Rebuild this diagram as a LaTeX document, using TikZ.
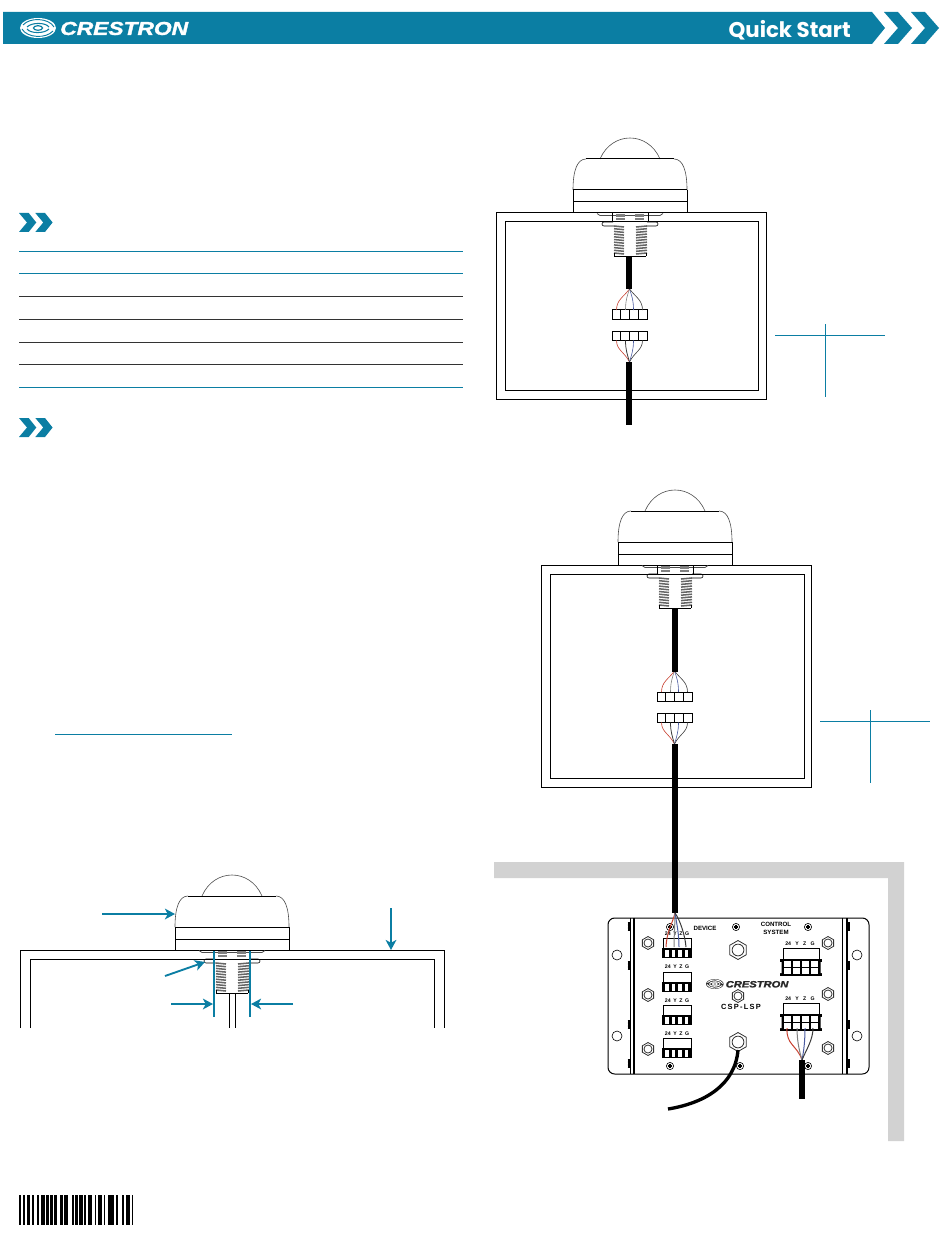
\documentclass[tikz,border=0pt]{standalone}
\usepackage{fontspec}
\setmainfont{Liberation Sans}
\newfontfamily\qsfont{Poppins}
\newfontfamily\logofont[FakeBold=1.6]{Liberation Sans}
\usepackage{tikz}
\usetikzlibrary{arrows.meta}
\definecolor{crestblue}{HTML}{0B7EA3}
\definecolor{wirered}{HTML}{C8402F}
\definecolor{wireblue}{HTML}{4A5AA0}
\definecolor{wiregray}{HTML}{808080}
\definecolor{wiredark}{HTML}{3A3A3A}
\definecolor{wallgray}{HTML}{D2D2D2}
\tikzset{
  px/.style={line width=0.75pt},
  thinpx/.style={line width=0.45pt},
  cable/.style={line width=4.2pt},
  tealline/.style={crestblue,line width=0.65pt},
  tealarrow/.style={crestblue,line width=1.4pt,-{Stealth[length=7.5pt,width=8pt,inset=2pt]}},
  rowline/.style={line width=0.6pt,black!80},
  tinylabel/.style={font=\fontsize{3.9}{4}\selectfont\bfseries,inner sep=0pt},
  % dome, body and threads, origin on top of the panel
  pics/sensor/.style={code={
    \draw[thinpx,black!70] (-30,-54) .. controls (-24,-68) and (-12,-75) .. (0,-75)
       .. controls (12,-75) and (24,-68) .. (30,-54);
    \draw[thinpx,black!70] (-57,-23) .. controls (-57,-42) and (-53,-54) .. (-44,-54);
    \draw[thinpx,black!70] (57,-23) .. controls (57,-42) and (53,-54) .. (44,-54);
    \draw[px] (-44,-54) -- (44,-54);
    \draw[px] (-57,-23) -- (57,-23);
    \draw[px] (-57,-11) -- (57,-11);
    \draw[px] (-57,-23) -- (-57,0);
    \draw[px] (57,-23) -- (57,0);
    \draw[line width=0.6pt,black!70] (-33,0.5) -- (-30,2.5) -- (30,2.5) -- (33,0.5);
    \draw[thinpx,rounded corners=1.5pt] (-16,13) -- (-28,13) -- (-28,9) -- (-17,9);
    \draw[thinpx,rounded corners=1.5pt] (16,13) -- (28,13) -- (28,9) -- (17,9);
    \draw[thinpx] (-18,0) -- (-18,9) (18,0) -- (18,9);
    \foreach \y in {2,3.6,5.2,6.8} {
      \draw[wiregray,line width=0.9pt] (-14,\y) -- (-5,\y);
      \draw[wiregray,line width=0.9pt] (5,\y) -- (14,\y);
    }
    \foreach \y in {13,15.7,...,41} {
      \draw[black!60,line width=1.15pt] (-16,\y) -- (-6,\y+1);
      \draw[black!60,line width=1.15pt] (6,\y+1) -- (17,\y);
    }
    \draw[thinpx] (-16,43) -- (16,43);
    \draw[thinpx] (-16,40) -- (-16,43) (16,40) -- (16,43);
  }},
  % two four way connectors with the wires, origin on top of the upper one
  pics/splice/.style={code={
    \foreach \s in {0,21} {
      \draw[px,fill=white] (-17.5,\s) rectangle (17.5,\s+9.5);
      \draw[px] (-8.75,\s) -- (-8.75,\s+9.5) (0,\s) -- (0,\s+9.5) (8.75,\s) -- (8.75,\s+9.5);
    }
    \draw[wirered,thinpx] (-13,0) .. controls (-13,-10) and (-6,-13) .. (0,-21);
    \draw[wiregray,thinpx] (-4,0) .. controls (-4,-10) and (-2,-15) .. (0,-21);
    \draw[wireblue,thinpx] (4,0) .. controls (4,-10) and (2,-15) .. (0,-21);
    \draw[wiredark,thinpx] (13,0) .. controls (13,-10) and (6,-13) .. (0,-21);
    \draw[wirered,thinpx] (-13,30.5) .. controls (-13,40) and (-5,42) .. (0,52);
    \draw[wiredark,line width=0.6pt] (-4,30.5) .. controls (-4,40) and (-2,45) .. (0,52);
    \draw[wireblue,thinpx] (4,30.5) .. controls (4,40) and (2,45) .. (0,52);
    \draw[wiredark,thinpx] (13,30.5) .. controls (13,40) and (5,42) .. (0,52);
  }},
  pics/chevrons/.style={code={
    \foreach \d in {0,16.3}
      \fill[crestblue,shift={(\d,0)}] (0,0) -- (9.7,0) -- (17.3,9.5) -- (9.7,19) -- (0,19) -- (8,9.5) -- cycle;
  }},
  pics/bigchevron/.style={code={
    \fill[crestblue] (0,0) -- (14,0) -- (28,16) -- (14,32) -- (0,32) -- (14,16) -- cycle;
  }},
  pics/hexnut/.style={code={
    \draw[line width=0.6pt,black!80,fill=white] (90:#1) -- (30:#1) -- (-30:#1) -- (-90:#1) -- (-150:#1) -- (150:#1) -- cycle;
    \draw[line width=0.6pt,black!80] (0,0) circle (0.62*#1);
  }},
  pics/crossscrew/.style={code={
    \draw[thinpx,fill=white] (0,0) circle (3.6);
    \draw[line width=0.8pt] (-2.4,0) -- (2.4,0) (0,-2.4) -- (0,2.4);
  }},
  pics/flangescrew/.style={code={
    \foreach \y in {-4,-2.5,...,4}
      \draw[line width=0.8pt] (-1.5,\y) -- (2,\y);
  }},
  % black plug of the left column
  pics/plugblock/.style={code={
    \draw[px,fill=white] (-14,0) rectangle (14,10);
    \fill (-15,10) rectangle (15,20);
    \foreach \x in {-10,-3.5,3,9.5}
      \fill[white] (\x-1.6,12) rectangle (\x+1.6,18.5);
  }},
  % socket of the right column
  pics/socketblock/.style={code={
    \draw[px,fill=white] (-18,0) rectangle (18,11);
    \fill (-21,11) rectangle (21,28);
    \fill[white] (-21,14) rectangle (-19.5,25) (19.5,14) rectangle (21,25);
    \foreach \x in {-13.5,-4.5,4.5,13.5}
      \fill[white] (\x-3.3,13) rectangle (\x+3.3,26);
    \foreach \x in {-13.5,-4.5,4.5,13.5}
      \draw[line width=0.5pt] (\x-3.3,19.5) -- (\x+3.3,19.5);
  }},
  pics/crestlogo/.style 2 args={code={
    \fill[#1] (18,0) ellipse (18 and 10);
    \draw[#2,line width=0.9pt] (18,0) ellipse (4.5 and 2.3);
    \draw[#2,line width=0.8pt] (7,1) .. controls (10,5.5) and (24,6) .. (29,1);
    \draw[#2,line width=0.8pt] (29,-1) .. controls (26,-5.5) and (12,-6) .. (7,-1);
    \draw[#2,line width=0.7pt] (2,1) .. controls (7,10) and (26,11) .. (33,3);
    \draw[#2,line width=0.7pt] (34,-1) .. controls (29,-10) and (10,-11) .. (3,-3);
    \node[#1,font=\logofont\fontsize{14}{14}\selectfont\bfseries\itshape,anchor=west,inner sep=0pt,xscale=1.22,transform shape] (logotext) at (40,0.5) {CRESTRON};
  }},
}
\begin{document}
\begin{tikzpicture}[x=0.75pt,y=-0.75pt]
  \useasboundingbox (0,0) rectangle (950,1237);
  % header bar
  \fill[crestblue] (3,12) -- (872,12) -- (885,28) -- (872,44) -- (3,44) -- cycle;
  \pic at (884,12) {bigchevron};
  \pic at (911,12) {bigchevron};
  \pic at (20,28) {crestlogo={white}{crestblue}};
  \node[white,font=\qsfont\fontsize{16}{16}\selectfont\bfseries,anchor=east,inner sep=0pt] (title) at (851,30) {Quick Start};
  % table rules
  \foreach \y in {213,418}
    \pic at (19,\y) {chevrons};
  \foreach \y in {251,273,387}
    \draw[tealline] (19,\y) -- (463,\y);
  \foreach \y in {296,319,342,364}
    \draw[rowline] (19,\y) -- (463,\y);
  \draw[tealline] (55,734) -- (232,734);
  % wall
  \fill[wallgray] (494,862) -- (904,862) -- (904,1141) -- (888,1141) -- (888,878) -- (494,878) -- cycle;
  % first panel
  \draw[px] (496,213) rectangle (766,399);
  \draw[px] (505,222) rectangle (758,390);
  \pic at (630,213) {sensor};
  \pic at (629.5,310) {splice};
  \coordinate (upperA) at (629,256);
  \coordinate (fanA) at (629,289);
  \coordinate (lowerA) at (629,362);
  \coordinate (endA) at (629,425);
  \draw[cable] (upperA) -- (fanA);
  \draw[cable] (lowerA) -- (endA);
  \draw[tealline] (775,335) -- (885,335);
  \draw[tealline] (825,324) -- (825,397);
  % second panel
  \draw[px] (541,565) rectangle (811,787);
  \draw[px] (550,574) rectangle (804,778);
  \pic at (675,565) {sensor};
  \pic at (674.5,692) {splice};
  \coordinate (upperB) at (675,608);
  \coordinate (fanB) at (675,672);
  \coordinate (lowerB) at (675,744);
  \coordinate (endB) at (675,913);
  \draw[cable] (upperB) -- (fanB);
  \draw[cable] (lowerB) -- (endB);
  \draw[tealline] (820,721) -- (930,721);
  \draw[tealline] (870,710) -- (870,783);
  % control box
  \draw[px,rounded corners=5pt] (608,918) rectangle (869,1074);
  \draw[px] (630,918) -- (630,1074);
  \draw[line width=1.1pt] (634,918) -- (634,1074);
  \draw[px] (842,918) -- (842,1074);
  \draw[line width=1.1pt] (847,918) -- (847,1074);
  \foreach \x/\y in {617/955,617/1036,857/955,857/1036}
    \draw[thinpx] (\x,\y) circle (5);
  \foreach \y in {927,966,1025,1064} {
    \pic at (629,\y) {flangescrew};
    \pic at (848,\y) {flangescrew};
  }
  \foreach \x/\y in {648/943,648/995,648/1049,828/943,828/994,828/1048}
    \pic at (\x,\y) {hexnut=6.5};
  \pic at (738,950) {hexnut=9.5};
  \pic at (738,996) {hexnut=6.5};
  \foreach \x/\y in {670/927,736/927,808/927,670/1066,740/1066,808/1066}
    \pic at (\x,\y) {crossscrew};
  % connectors
  \foreach \y in {938,972,1005,1038}
    \pic at (677,\y) {plugblock};
  \pic at (801,948) {socketblock};
  \pic at (801,1003) {socketblock};
  \node[tinylabel] (pinsA) at (677,934) {24\,\,\,Y\,\,\,Z\,\,\,G};
  \node[tinylabel] (pinsB) at (677,967) {24\,\,\,Y\,\,\,Z\,\,\,G};
  \node[tinylabel] (pinsC) at (677,1001) {24\,\,\,Y\,\,\,Z\,\,\,G};
  \node[tinylabel] (pinsD) at (677,1034) {24\,\,\,Y\,\,\,Z\,\,\,G};
  \node[tinylabel] (pinsE) at (800,944) {24\,\,\,\,\,Y\,\,\,\,\,Z\,\,\,\,\,G};
  \node[tinylabel] (pinsF) at (800,999) {24\,\,\,\,\,Y\,\,\,\,\,Z\,\,\,\,\,G};
  \node[tinylabel,font=\fontsize{4.6}{5}\selectfont\bfseries] (device) at (705,928) {DEVICE};
  \node[tinylabel,font=\fontsize{4.6}{6}\selectfont\bfseries,align=center] (ctrlsys) at (776,928) {CONTROL\\SYSTEM};
  \node[inner sep=0pt,font=\fontsize{5.6}{6}\selectfont\bfseries] (model) at (741,1007) {C\,S\,P\,-\,L\,S\,P};
  \pic[scale=0.49] at (706,984) {crestlogo={black!85}{white}};
  % wires from the first cable to the box
  \coordinate (wiretop) at (675,913);
  \draw[wirered,px] (wiretop) .. controls (672,925) and (667,930) .. (666,947);
  \draw[wiregray,px] (wiretop) .. controls (675,925) and (674,935) .. (674,947);
  \draw[wireblue,px] (wiretop) .. controls (677,925) and (679,935) .. (679,947);
  \draw[wiredark,px] (wiretop) .. controls (680,920) and (685,935) .. (686,947);
  % lower right connector wires
  \coordinate (wirebot) at (802,1060);
  \coordinate (cableC) at (802,1099);
  \draw[wirered,px] (787,1028) .. controls (786,1045) and (797,1045) .. (wirebot);
  \draw[wiregray,px] (797,1028) .. controls (797,1040) and (799,1050) .. (wirebot);
  \draw[wireblue,px] (805,1028) .. controls (805,1040) and (804,1050) .. (wirebot);
  \draw[wiredark,px] (813,1028) .. controls (813,1040) and (806,1050) .. (wirebot);
  \draw[cable] (wirebot) -- (cableC);
  % cable from the big gland
  \pic at (738,1042) {hexnut=9.5};
  \coordinate (glandC) at (738,1050);
  \coordinate (tailC) at (668,1109);
  \draw[line width=2.5pt] (glandC) .. controls (735,1085) and (705,1103) .. (tailC);
  % detail view
  \draw[px] (20,1028) -- (20,950) -- (444,950) -- (444,1028);
  \draw[px] (30,1028) -- (30,959) -- (434,959) -- (434,1028);
  \pic at (232,950) {sensor};
  \draw[px] (229,993) -- (229,1028);
  \draw[px] (235,993) -- (235,1028);
  \draw[crestblue,line width=1.1pt] (214,951) -- (214,1017);
  \draw[crestblue,line width=1.1pt] (250,951) -- (250,1017);
  \coordinate (domeS) at (102,914);
  \coordinate (domeE) at (175,914);
  \coordinate (wallS) at (391,908);
  \coordinate (wallE) at (391,950);
  \coordinate (gaskS) at (165,976);
  \coordinate (gaskE) at (205,962);
  \coordinate (holeS) at (171,1004);
  \coordinate (holeE) at (213,1004);
  \coordinate (holeT) at (293,1004);
  \coordinate (holeF) at (251,1004);
  \draw[tealarrow] (domeS) -- (domeE);
  \draw[tealarrow] (wallS) -- (wallE);
  \draw[tealarrow] (gaskS) -- (gaskE);
  \draw[tealarrow] (holeS) -- (holeE);
  \draw[tealarrow] (holeT) -- (holeF);
  % barcode
  \foreach \b/\e in {19/21,23.3/25,26.7/30,32.3/34,37/38.7,41/45,46/48.7,49.7/53.3,54.3/57.3,60/62.7,
      64.3/67.7,72.3/74.3,75.3/77.7,79/83.3,84.3/85.7,88.3/91.7,95/96.3,98.3/101.7,104/105.3,
      107.7/114.3,116/118.3,122.3/124,126/130,131.7/133.3}
    \fill (\b,1195) rectangle (\e,1225);
\end{tikzpicture}
\end{document}
